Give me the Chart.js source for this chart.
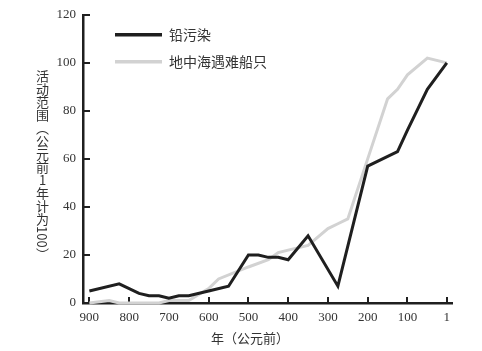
<!DOCTYPE html>
<html lang="zh">
<head>
<meta charset="utf-8">
<title>铅污染与地中海遇难船只</title>
<script src="https://cdn.jsdelivr.net/npm/chart.js@4"></script>
<style>
  html, body { margin: 0; padding: 0; background: #fff; }
  #wrap { position: relative; width: 482px; height: 351px; }
  #chart { position: absolute; left: 0; top: 0; }
  .axis-title {
    position: absolute;
    font-family: "Noto Sans CJK SC", sans-serif;
    color: #333;
    font-size: 13px;
    line-height: 1;
  }
  #yTitle { left: 36px; top: 70px; writing-mode: vertical-rl; }
  #yTitle .up { text-orientation: upright; }
  #xTitle { left: 211px; top: 331px; }
</style>
</head>
<body>
<div id="wrap">
  <canvas id="chart" width="482" height="351"></canvas>
  <div id="yTitle" class="axis-title">活动范围（公元前<span class="up">1</span>年计为100）</div>
  <div id="xTitle" class="axis-title">年（公元前）</div>
</div>
<script>
// ------------------------------------------------------------------
// Data (years BC, index with 1 BC = 100)
// ------------------------------------------------------------------
const leadLabel    = '铅污染';
const leadYears    = [900, 825, 775, 750, 725, 700, 675, 650, 600, 550, 500, 475, 450, 425, 400, 350, 275, 200, 125, 100, 50, 1];
const leadValues   = [5, 8, 4, 3, 3, 2, 3, 3, 5, 7, 20, 20, 19, 19, 18, 28, 7, 57, 63, 72, 89, 100];

const wreckLabel   = '地中海遇难船只';
const wreckYears   = [900, 850, 825, 725, 700, 650, 600, 575, 500, 450, 425, 400, 350, 300, 275, 250, 200, 150, 125, 100, 50, 1];
const wreckValues  = [0, 1, 0, 0, 1, 1, 6, 10, 15, 18, 21, 22, 24, 31, 33, 35, 60, 85, 89, 95, 102, 100];

const xTickValues  = [900, 800, 700, 600, 500, 400, 300, 200, 100, 1];
const yTickValues  = [0, 20, 40, 60, 80, 100, 120];

const INK  = '#1f1f1f';
const GREY = '#d2d2d2';

const toPoints = (xs, ys) => xs.map((x, i) => ({ x, y: ys[i] }));

/**
 * Short tick marks pointing into the plot area, placed through the scales.
 */
const innerTicks = {
  id: 'innerTicks',
  beforeDatasetsDraw(chart) {
    const { ctx, chartArea, scales } = chart;
    ctx.save();
    ctx.strokeStyle = INK;
    ctx.lineWidth = 2;
    scales.y.ticks.forEach(t => {
      const py = Math.round(scales.y.getPixelForValue(t.value));
      ctx.beginPath();
      ctx.moveTo(chartArea.left, py);
      ctx.lineTo(chartArea.left + 7, py);
      ctx.stroke();
    });
    scales.x.ticks.forEach(t => {
      const px = Math.round(scales.x.getPixelForValue(t.value));
      ctx.beginPath();
      ctx.moveTo(px, chartArea.bottom);
      ctx.lineTo(px, chartArea.bottom - 6);
      ctx.stroke();
    });
    ctx.restore();
  },
};

/**
 * Legend with line samples, stacked in the top-left of the plot.
 */
const lineLegend = {
  id: 'lineLegend',
  afterDraw(chart) {
    const { ctx, chartArea } = chart;
    const x0 = chartArea.left + 32;
    ctx.save();
    ctx.font = '14px "Noto Sans CJK SC", sans-serif';
    ctx.textBaseline = 'middle';
    chart.data.datasets.forEach((ds, i) => {
      const y = chartArea.top + 20 + i * 27;
      ctx.strokeStyle = ds.borderColor;
      ctx.lineWidth = 3.5;
      ctx.beginPath();
      ctx.moveTo(x0, y);
      ctx.lineTo(x0 + 47, y);
      ctx.stroke();
      ctx.fillStyle = '#333';
      ctx.fillText(ds.label, x0 + 54, y);
    });
    ctx.restore();
  },
};

new Chart(document.getElementById('chart'), {
  type: 'line',
  data: {
    datasets: [
      {
        label: leadLabel,
        data: toPoints(leadYears, leadValues),
        borderColor: INK,
        borderWidth: 3,
        borderJoinStyle: 'miter',
        pointRadius: 0,
        tension: 0,
        clip: false,
      },
      {
        label: wreckLabel,
        data: toPoints(wreckYears, wreckValues),
        borderColor: GREY,
        borderWidth: 3,
        borderJoinStyle: 'miter',
        pointRadius: 0,
        tension: 0,
        clip: false,
      },
    ],
  },
  options: {
    responsive: false,
    animation: false,
    layout: { padding: { top: 13, right: 30, left: 0, bottom: 0 } },
    plugins: {
      legend: { display: false },
      tooltip: { enabled: false },
    },
    scales: {
      x: {
        type: 'linear',
        reverse: true,
        min: -12,
        max: 916,
        afterBuildTicks: scale => { scale.ticks = xTickValues.map(v => ({ value: v })); },
        afterFit: scale => { scale.height = 48; },
        grid: { display: false, drawTicks: false },
        border: { display: true, color: INK, width: 2.5 },
        ticks: {
          color: '#333',
          padding: 7,
          maxRotation: 0,
          autoSkip: false,
          font: { family: '"Liberation Serif", serif', size: 13 },
          callback: v => String(v),
        },
      },
      y: {
        min: 0,
        max: 120,
        afterBuildTicks: scale => { scale.ticks = yTickValues.map(v => ({ value: v })); },
        afterFit: scale => { scale.width = 83; },
        grid: { display: false, drawTicks: false },
        border: { display: true, color: INK, width: 2.5 },
        ticks: {
          color: '#333',
          padding: 7,
          font: { family: '"Liberation Serif", serif', size: 13 },
        },
      },
    },
  },
  plugins: [innerTicks, lineLegend],
});
</script>
</body>
</html>
